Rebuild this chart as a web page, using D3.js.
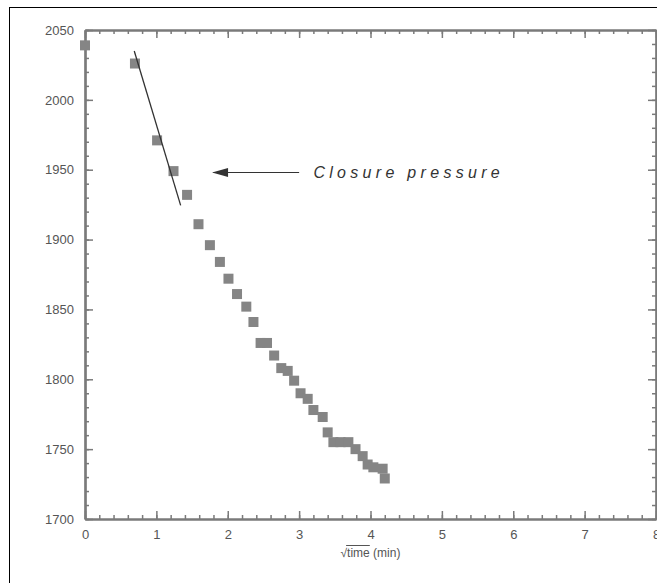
<!DOCTYPE html>
<html>
<head>
<meta charset="utf-8">
<script src="https://cdn.jsdelivr.net/npm/d3@7"></script>
<style>
  body { margin: 0; background: #fff; }
  svg { display: block; font-family: "Liberation Sans", Arial, sans-serif; }
</style>
</head>
<body>
<script>
// sqrt(time) vs pressure
var sqrtTime = [0, 0.70, 1.01, 1.24, 1.43, 1.59, 1.75, 1.89, 2.01, 2.13, 2.26, 2.36,
                2.46, 2.55, 2.65, 2.75, 2.84, 2.93, 3.02, 3.12, 3.20, 3.33, 3.40,
                3.48, 3.58, 3.69, 3.79, 3.89, 3.96, 4.04, 4.17, 4.20];
var pressure = [2039, 2026, 1971, 1949, 1932, 1911, 1896, 1884, 1872, 1861, 1852, 1841,
                1826, 1826, 1817, 1808, 1806, 1799, 1790, 1786, 1778, 1773, 1762,
                1755, 1755, 1755, 1750, 1745, 1739, 1737, 1736, 1729];
var fitX = [0.69, 1.34];
var fitY = [2035, 1924.5];
var xTicks = [0, 1, 2, 3, 4, 5, 6, 7, 8];
var yTicks = [1700, 1750, 1800, 1850, 1900, 1950, 2000, 2050];

var W = 657, H = 583;
var margin = {top: 30, right: 1, bottom: 64, left: 85};

var svg = d3.select("body").append("svg")
    .attr("width", W)
    .attr("height", H);

// outer frame
svg.append("rect")
   .attr("x", 9.5).attr("y", 7.5)
   .attr("width", 800).attr("height", 800)
   .attr("fill", "none")
   .attr("stroke", "#000")
   .attr("stroke-width", 1);

var x = d3.scaleLinear().domain([0, 8]).range([margin.left, W - margin.right]);
var y = d3.scaleLinear().domain([1700, 2050]).range([H - margin.bottom, margin.top]);

var axisColor = "#7a7a7a";
var minorX = d3.range(0, 8.001, 0.2);
var minorY = d3.range(1700, 2050.1, 10);

function drawAxis(axis, tr, labels) {
  var g = svg.append("g").attr("transform", tr).call(axis);
  g.select(".domain").attr("stroke", axisColor).attr("stroke-width", 2.2);
  g.selectAll(".tick line").attr("stroke", axisColor).attr("stroke-width", 1.5);
  if (!labels) g.selectAll(".tick text").remove();
  else g.selectAll(".tick text").attr("fill", "#555").style("font-size", "13px");
  return g;
}

// minor ticks (all four sides, pointing in)
drawAxis(d3.axisBottom(x).tickValues(minorX).tickSizeInner(-4).tickSizeOuter(0), "translate(0," + y(1700) + ")", false);
drawAxis(d3.axisTop(x).tickValues(minorX).tickSizeInner(-4).tickSizeOuter(0), "translate(0," + y(2050) + ")", false);
drawAxis(d3.axisLeft(y).tickValues(minorY).tickSizeInner(-4).tickSizeOuter(0), "translate(" + x(0) + ",0)", false);
drawAxis(d3.axisRight(y).tickValues(minorY).tickSizeInner(-4).tickSizeOuter(0), "translate(" + x(8) + ",0)", false);

// major ticks
drawAxis(d3.axisBottom(x).tickValues(xTicks).tickSizeInner(-8).tickSizeOuter(0).tickPadding(11).tickFormat(d3.format("d")),
         "translate(0," + y(1700) + ")", true);
drawAxis(d3.axisTop(x).tickValues(xTicks).tickSizeInner(-8).tickSizeOuter(0), "translate(0," + y(2050) + ")", false);
drawAxis(d3.axisLeft(y).tickValues(yTicks).tickSizeInner(-8).tickSizeOuter(0).tickPadding(11).tickFormat(d3.format("d")),
         "translate(" + x(0) + ",0)", true);
drawAxis(d3.axisRight(y).tickValues(yTicks).tickSizeInner(-8).tickSizeOuter(0), "translate(" + x(8) + ",0)", false);

// axis title: sqrt sign with a bar over "time"
var title = svg.append("text")
   .attr("x", x(4)).attr("y", y(1700) + 38)
   .attr("text-anchor", "middle")
   .attr("fill", "#555")
   .style("font-size", "12px")
   .text("\u221Atime (min)");
var tn = title.node();
var ox1 = tn.getStartPositionOfChar(1).x, ox2 = tn.getEndPositionOfChar(4).x;
svg.append("line")
   .attr("x1", ox1 - 1).attr("x2", ox2)
   .attr("y1", y(1700) + 26.5).attr("y2", y(1700) + 26.5)
   .attr("stroke", "#555").attr("stroke-width", 1);

// data squares
var pts = sqrtTime.map(function(d, i) { return [d, pressure[i]]; });
svg.append("g").selectAll("rect")
   .data(pts)
   .enter().append("rect")
   .attr("x", function(d) { return x(d[0]) - 5; })
   .attr("y", function(d) { return y(d[1]) - 5; })
   .attr("width", 10).attr("height", 10)
   .attr("fill", "#858585");

// fitted line
svg.append("line")
   .attr("x1", x(fitX[0])).attr("y1", y(fitY[0]))
   .attr("x2", x(fitX[1])).attr("y2", y(fitY[1]))
   .attr("stroke", "#333").attr("stroke-width", 1.3);

// annotation arrow
svg.append("line")
   .attr("x1", x(1.8)).attr("y1", y(1948))
   .attr("x2", x(3.0)).attr("y2", y(1948))
   .attr("stroke", "#333").attr("stroke-width", 1.2);
svg.append("path")
   .attr("d", "M" + x(1.78) + "," + y(1948) + "l16,-4.5l0,9z")
   .attr("fill", "#333");

svg.append("text")
   .attr("x", x(3.2)).attr("y", y(1948) + 5)
   .attr("fill", "#333")
   .style("font-size", "16px")
   .style("font-style", "italic")
   .style("letter-spacing", "4.3px")
   .text("Closure pressure");
</script>
</body>
</html>
